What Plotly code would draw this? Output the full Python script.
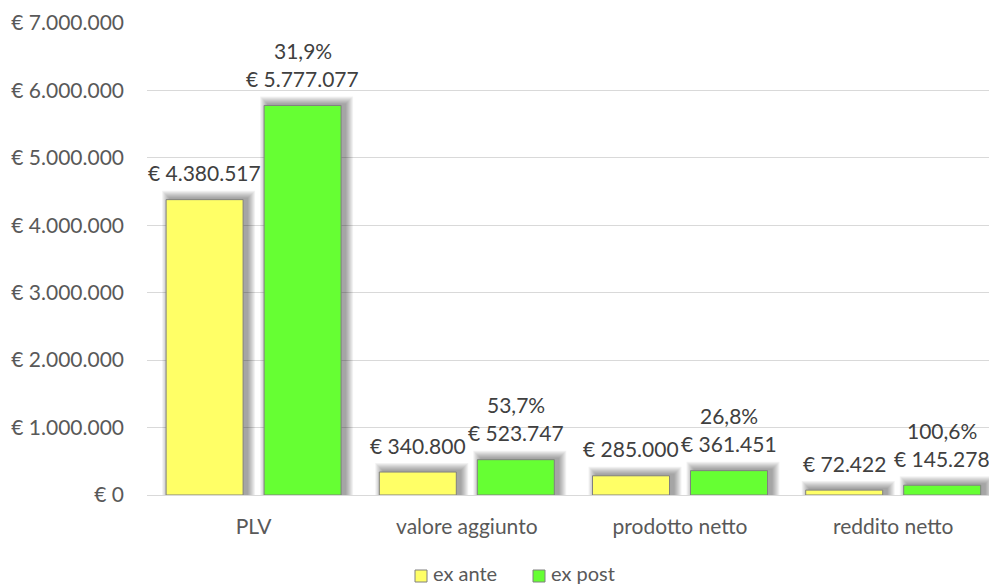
import plotly.graph_objects as go

# Dati del confronto ex ante / ex post
categorie = ["PLV", "valore aggiunto", "prodotto netto", "reddito netto"]
ex_ante = [4380517, 340800, 285000, 72422]
ex_post = [5777077, 523747, 361451, 145278]
variazione = ["31,9%", "53,7%", "26,8%", "100,6%"]
etichette_ante = ["€ 4.380.517", "€ 340.800", "€ 285.000", "€ 72.422"]
etichette_post = ["€ 5.777.077", "€ 523.747", "€ 361.451", "€ 145.278"]
serie = ["ex ante", "ex post"]
tick_valori = [0, 1000000, 2000000, 3000000, 4000000, 5000000, 6000000, 7000000]
tick_testi = ["€ 0", "€ 1.000.000", "€ 2.000.000", "€ 3.000.000",
              "€ 4.000.000", "€ 5.000.000", "€ 6.000.000", "€ 7.000.000"]

FONT = "Lato"
GIALLO = "#FFFF66"
VERDE = "#66FF33"
BORDO = "#808080"

# geometria (pixel)
W, H = 989, 588
L, T, B = 147, 23, 93
plot_w = W - L
plot_h = H - T - B
y_max = 7000000
px_cat = 213.2                       # larghezza di una categoria in pixel
x_end = plot_w / px_cat - 0.5
px_y = y_max / plot_h               # valore per pixel

larg = 77 / px_cat
off_ante = -87.5 / px_cat
off_post = 10.5 / px_cat

x_idx = list(range(len(categorie)))

fig = go.Figure()

# ombre sfumate dietro le barre (spostate in alto a destra)
for k in range(8, 0, -1):
    e = k / px_cat
    for valori, off in ((ex_ante, off_ante), (ex_post, off_post)):
        fig.add_trace(go.Bar(
            x=x_idx, y=[v + (k + 1) * px_y for v in valori],
            width=larg + 2 * e, offset=off - e + 4 / px_cat,
            marker=dict(color="rgba(0,0,0,0.05)", line=dict(width=0)),
            showlegend=False, hoverinfo="skip",
        ))

fig.add_trace(go.Bar(
    x=x_idx, y=ex_ante, name=serie[0], width=larg, offset=off_ante,
    marker=dict(color=GIALLO, line=dict(color=BORDO, width=1)),
    showlegend=False,
))
fig.add_trace(go.Bar(
    x=x_idx, y=ex_post, name=serie[1], width=larg, offset=off_post,
    marker=dict(color=VERDE, line=dict(color=BORDO, width=1)),
    showlegend=False,
))

annotazioni = []
for i in x_idx:
    xa = i + off_ante + larg / 2
    xp = i + off_post + larg / 2
    annotazioni.append(dict(x=xa, y=ex_ante[i], text=etichette_ante[i],
                            yshift=27, yanchor="middle"))
    annotazioni.append(dict(x=xp, y=ex_post[i], text=etichette_post[i],
                            yshift=27, yanchor="middle"))
    annotazioni.append(dict(x=xp, y=ex_post[i], text=variazione[i],
                            yshift=55, yanchor="middle"))
for a in annotazioni:
    a.update(xref="x", yref="y", showarrow=False, xanchor="center",
             font=dict(family=FONT, size=21, color="#404040"))

# legenda in basso: quadratino colorato + nome della serie
def px_x(p):
    return (p - L) / plot_w

def px_yp(p):
    return ((H - B) - p) / plot_h

forme = []
for nome, colore, x0 in ((serie[0], GIALLO, 415), (serie[1], VERDE, 533)):
    forme.append(dict(type="rect", xref="paper", yref="paper",
                      x0=px_x(x0), x1=px_x(x0 + 12),
                      y0=px_yp(582), y1=px_yp(570),
                      fillcolor=colore, line=dict(color=BORDO, width=1)))
    annotazioni.append(dict(xref="paper", yref="paper", x=px_x(x0 + 16),
                            y=px_yp(587), text=nome, showarrow=False,
                            xanchor="left", yanchor="bottom",
                            font=dict(family=FONT, size=20, color="#595959")))

fig.update_layout(
    width=W, height=H,
    margin=dict(l=L, r=0, t=T, b=B, pad=0),
    paper_bgcolor="white", plot_bgcolor="white",
    barmode="overlay",
    annotations=annotazioni,
    shapes=forme,
    showlegend=False,
    font=dict(family=FONT, size=21, color="#595959"),
    xaxis=dict(range=[-0.5, x_end], tickvals=x_idx, ticktext=categorie,
               showgrid=False, showline=True, linecolor="#d9d9d9", linewidth=1,
               ticks="", ticklabelstandoff=13, zeroline=False, fixedrange=True),
    yaxis=dict(range=[0, y_max], tickvals=tick_valori, ticktext=tick_testi,
               showgrid=True, gridcolor="#d9d9d9", gridwidth=1,
               zeroline=False, showline=False, ticks="",
               ticklabelstandoff=22, fixedrange=True),
)

fig.write_html("out.html")
